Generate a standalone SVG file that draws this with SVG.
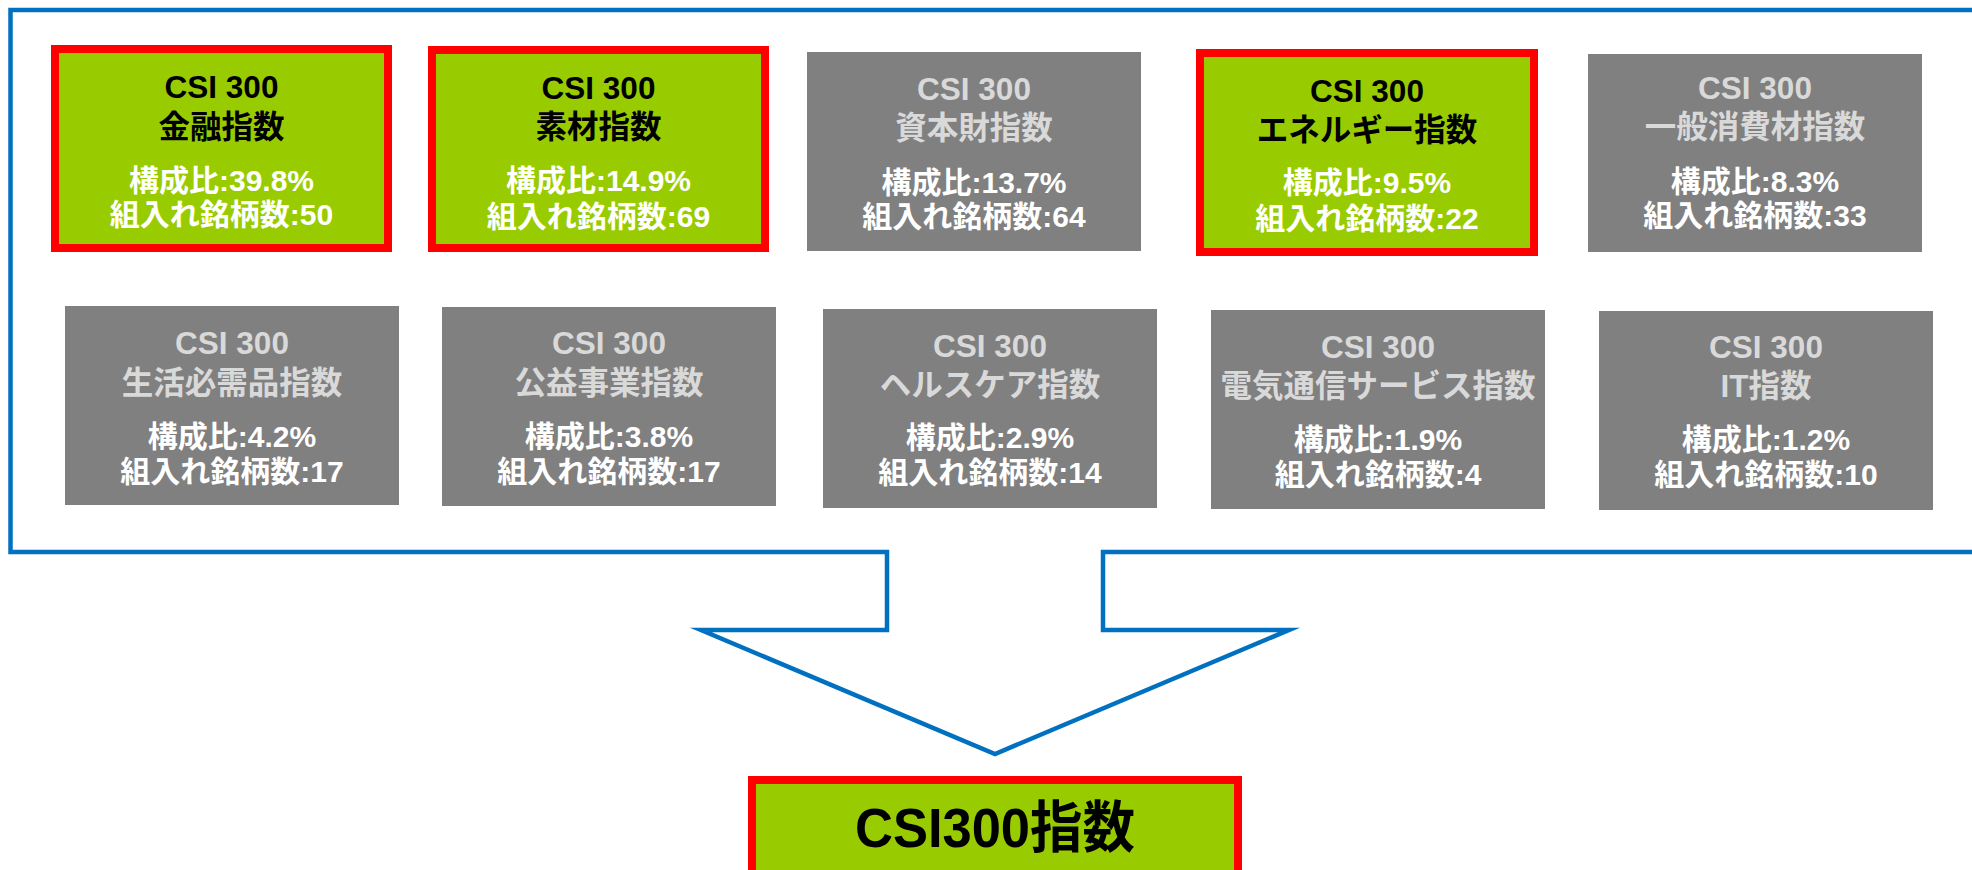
<svg xmlns="http://www.w3.org/2000/svg" width="1972" height="870" viewBox="0 0 1972 870">
<style>
.t{font-family:"Liberation Sans","Noto Sans CJK JP",sans-serif;font-weight:bold;text-anchor:middle}
.h{font-size:31.5px}
.d{font-size:30px;fill:#FFFFFF}
.k{fill:#000000}
.l{fill:#D9D9D9}
.gr{fill:#99CC00;stroke:#FF0000;stroke-width:8}
.gy{fill:#808080}
</style>
<rect x="0" y="0" width="1972" height="870" fill="#FFFFFF"/>
<g id="connectors">
<path d="M887,552 L10.5,552 L10.5,10 L1990,10 L1990,552 L1103,552 L1103,630 L1289,630 L995,754 L701,630 L887,630 Z" fill="none" stroke="#0070C0" stroke-width="4.5" stroke-miterlimit="10"/>
</g>
<g id="n1">
<rect class="gr" x="55" y="49" width="333" height="199"/>
<text class="t h k" x="221.5" y="97.7">CSI 300</text>
<text class="t h k" x="221.5" y="137.5">金融指数</text>
<text class="t d" x="221.5" y="191">構成比:39.8%</text>
<text class="t d" x="221.5" y="225.3">組入れ銘柄数:50</text>
</g>
<g id="n2">
<rect class="gr" x="432" y="50" width="333" height="198"/>
<text class="t h k" x="598.5" y="98.5">CSI 300</text>
<text class="t h k" x="598.5" y="138">素材指数</text>
<text class="t d" x="598.5" y="190.5">構成比:14.9%</text>
<text class="t d" x="598.5" y="226.5">組入れ銘柄数:69</text>
</g>
<g id="n3">
<rect class="gy" x="807" y="52" width="334" height="199"/>
<text class="t h l" x="974" y="100">CSI 300</text>
<text class="t h l" x="974" y="139">資本財指数</text>
<text class="t d" x="974" y="193.3">構成比:13.7%</text>
<text class="t d" x="974" y="227.3">組入れ銘柄数:64</text>
</g>
<g id="n4">
<rect class="gr" x="1200" y="53" width="334" height="199"/>
<text class="t h k" x="1367" y="101.5">CSI 300</text>
<text class="t h k" x="1367" y="141">エネルギー指数</text>
<text class="t d" x="1367" y="193">構成比:9.5%</text>
<text class="t d" x="1367" y="228.5">組入れ銘柄数:22</text>
</g>
<g id="n5">
<rect class="gy" x="1588" y="54" width="334" height="198"/>
<text class="t h l" x="1755" y="99.3">CSI 300</text>
<text class="t h l" x="1755" y="137.5">一般消費材指数</text>
<text class="t d" x="1755" y="191.7">構成比:8.3%</text>
<text class="t d" x="1755" y="226">組入れ銘柄数:33</text>
</g>
<g id="n6">
<rect class="gy" x="65" y="306" width="334" height="199"/>
<text class="t h l" x="232" y="354">CSI 300</text>
<text class="t h l" x="232" y="393.5">生活必需品指数</text>
<text class="t d" x="232" y="447">構成比:4.2%</text>
<text class="t d" x="232" y="482">組入れ銘柄数:17</text>
</g>
<g id="n7">
<rect class="gy" x="442" y="307" width="334" height="199"/>
<text class="t h l" x="609" y="354.3">CSI 300</text>
<text class="t h l" x="609" y="394">公益事業指数</text>
<text class="t d" x="609" y="446.7">構成比:3.8%</text>
<text class="t d" x="609" y="482.3">組入れ銘柄数:17</text>
</g>
<g id="n8">
<rect class="gy" x="823" y="309" width="334" height="199"/>
<text class="t h l" x="990" y="356.7">CSI 300</text>
<text class="t h l" x="990" y="395.5">ヘルスケア指数</text>
<text class="t d" x="990" y="448">構成比:2.9%</text>
<text class="t d" x="990" y="483">組入れ銘柄数:14</text>
</g>
<g id="n9">
<rect class="gy" x="1211" y="310" width="334" height="199"/>
<text class="t h l" x="1378" y="358.3">CSI 300</text>
<text class="t h l" x="1378" y="396.5">電気通信サービス指数</text>
<text class="t d" x="1378" y="450">構成比:1.9%</text>
<text class="t d" x="1378" y="485">組入れ銘柄数:4</text>
</g>
<g id="n10">
<rect class="gy" x="1599" y="311" width="334" height="199"/>
<text class="t h l" x="1766" y="358.3">CSI 300</text>
<text class="t h l" x="1766" y="397">IT指数</text>
<text class="t d" x="1766" y="450">構成比:1.2%</text>
<text class="t d" x="1766" y="485">組入れ銘柄数:10</text>
</g>
<g id="n11">
<rect class="gr" x="752" y="780" width="486" height="130"/>
<text class="t k" x="995" y="847" font-size="56" textLength="280" lengthAdjust="spacingAndGlyphs">CSI300指数</text>
</g>
</svg>
